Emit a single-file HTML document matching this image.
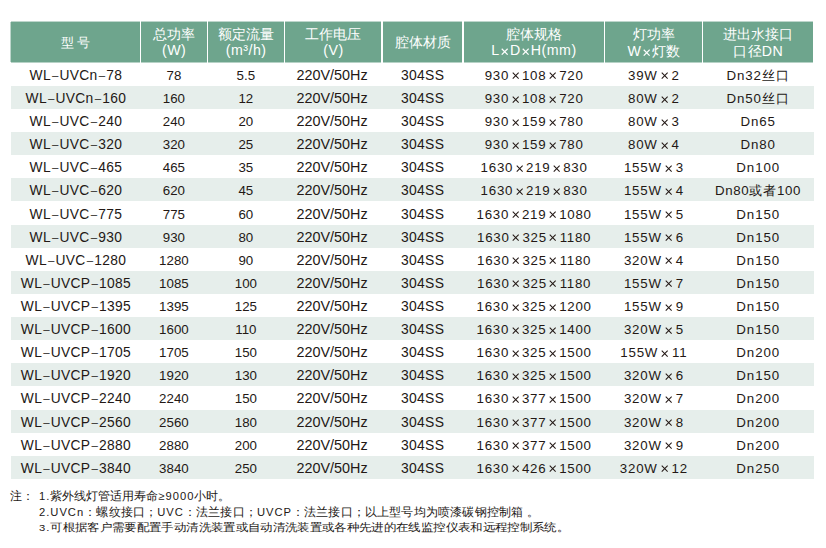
<!DOCTYPE html>
<html><head><meta charset="utf-8"><style>
html,body{margin:0;padding:0;background:#fff;}
body{width:826px;height:548px;position:relative;overflow:hidden;font-family:"Liberation Sans",sans-serif;color:#231815;}
.h{position:absolute;background:#6ea58d;color:#fff;font-size:14px;box-shadow:0 -1px 0 rgba(110,165,141,.45),0 1px 0 rgba(110,165,141,.5);}
.h0{box-shadow:0 -1px 0 rgba(110,165,141,.45),0 1px 0 rgba(110,165,141,.5),-1px 0 0 rgba(110,165,141,.45);}
.hl{position:absolute;left:0;right:0;text-align:center;white-space:nowrap;line-height:16px;height:16px;}
.r{position:absolute;left:11px;width:803px;height:23.12px;}
.g{background:#e6eeeb;}
.c{position:absolute;top:1.0px;height:23.12px;line-height:23.12px;text-align:center;font-size:13.3px;white-space:nowrap;}
.x{display:inline-block;margin:0 2.8px 0 2.6px;vertical-align:0px;}
.x7{margin-left:3.0px;margin-right:3.6px;}
.d{font-size:11.5px;margin:0 0.9px 0 1.1px;vertical-align:1px;}
.cj{font-size:12.6px;letter-spacing:1px;}
.xh{display:inline-block;margin:0 1.4px 0 1.4px;vertical-align:0px;}
.hc{font-size:14px;letter-spacing:0.2px;}
.note{position:absolute;font-size:12px;line-height:16px;white-space:nowrap;}
.n1{font-size:11.5px;}
.n2{letter-spacing:0.17px;}
.n3{letter-spacing:0.35px;transform:scaleY(0.88);transform-origin:0 2px;}
.lt{font-size:11.2px;letter-spacing:1px;}
</style></head><body>

<div class="h h0" style="left:11px;width:128.75px;top:22px;height:40px"><div class="hl" style="top:12px"><span style="font-size:13.4px;letter-spacing:-0.3px">型 号</span></div></div>
<div class="h" style="left:141.25px;width:65.30px;top:22px;height:40px"><div class="hl" style="top:4.0px">总功率</div><div class="hl" style="top:20.0px"><span style="font-size:14.2px;letter-spacing:0.5px;margin-right:-0.5px">(W)</span></div></div>
<div class="h" style="left:208.05px;width:75.60px;top:22px;height:40px"><div class="hl" style="top:4.0px">额定流量</div><div class="hl" style="top:20.0px"><span style="font-size:14.2px;letter-spacing:0.5px;margin-right:-0.5px">(m³/h)</span></div></div>
<div class="h" style="left:285.15px;width:96.10px;top:22px;height:40px"><div class="hl" style="top:4.0px">工作电压</div><div class="hl" style="top:20.0px"><span style="font-size:14.2px;letter-spacing:0.5px;margin-right:-0.5px">(V)</span></div></div>
<div class="h" style="left:382.75px;width:79.50px;top:22px;height:40px"><div class="hl" style="top:12px">腔体材质</div></div>
<div class="h" style="left:463.75px;width:140.00px;top:22px;height:40px"><div class="hl" style="top:4.0px">腔体规格</div><div class="hl" style="top:20.0px"><span style="font-size:14.2px;letter-spacing:0.5px;margin-right:-0.5px">L<svg class="xh" width="7.4" height="7.4" viewBox="0 0 10 10"><path d="M1 1L9 9M9 1L1 9" stroke="#fff" stroke-width="1.6" fill="none"/></svg>D<svg class="xh" width="7.4" height="7.4" viewBox="0 0 10 10"><path d="M1 1L9 9M9 1L1 9" stroke="#fff" stroke-width="1.6" fill="none"/></svg>H(mm)</span></div></div>
<div class="h" style="left:605.25px;width:96.50px;top:22px;height:40px"><div class="hl" style="top:4.0px">灯功率</div><div class="hl" style="top:20.9px"><span style="font-size:14.2px;letter-spacing:0.5px;margin-right:-0.5px">W<svg class="xh" width="7.4" height="7.4" viewBox="0 0 10 10"><path d="M1 1L9 9M9 1L1 9" stroke="#fff" stroke-width="1.6" fill="none"/></svg><span class=hc>灯数</span></span></div></div>
<div class="h" style="left:703.25px;width:109.75px;top:22px;height:40px"><div class="hl" style="top:4.0px">进出水接口</div><div class="hl" style="top:20.9px"><span style="font-size:14.2px;letter-spacing:0.5px;margin-right:-0.5px"><span class=hc>口径</span>DN</span></div></div>
<div class="r" style="top:62.78px"><div class="c" style="left:0.00px;width:129.50px;letter-spacing:0.3px;font-size:13.8px"><span style="margin-right:-0.3px">WL<span class="d">–</span>UVCn<span class="d">–</span>78</span></div><div class="c" style="left:129.50px;width:66.80px;letter-spacing:0px;font-size:13.3px"><span style="margin-right:-0px">78</span></div><div class="c" style="left:196.30px;width:77.10px;letter-spacing:0px;font-size:13.3px"><span style="margin-right:-0px">5.5</span></div><div class="c" style="left:272.20px;width:97.60px;letter-spacing:0px;font-size:14.4px"><span style="margin-right:-0px">220V/50Hz</span></div><div class="c" style="left:371.00px;width:81.00px;letter-spacing:0.3px;font-size:13.9px"><span style="margin-right:-0.3px">304SS</span></div><div class="c" style="left:452.00px;width:141.50px;letter-spacing:0.75px;font-size:13.3px"><span style="margin-right:-0.75px">930<svg class="x" width="7.4" height="7.4" viewBox="0 0 10 10"><path d="M1 1L9 9M9 1L1 9" stroke="#231815" stroke-width="1.4" fill="none"/></svg>108<svg class="x" width="7.4" height="7.4" viewBox="0 0 10 10"><path d="M1 1L9 9M9 1L1 9" stroke="#231815" stroke-width="1.4" fill="none"/></svg>720</span></div><div class="c" style="left:593.50px;width:98.00px;letter-spacing:0.77px;font-size:13.3px"><span style="margin-right:-0.77px">39W<svg class="x x7" width="7.4" height="7.4" viewBox="0 0 10 10"><path d="M1 1L9 9M9 1L1 9" stroke="#231815" stroke-width="1.4" fill="none"/></svg>2</span></div><div class="c" style="left:691.50px;width:110.50px;letter-spacing:0.9px;font-size:13.3px"><span style="margin-right:-0.9px">Dn32<span class="cj">丝口</span></span></div></div>
<div class="r g" style="top:85.90px"><div class="c" style="left:0.00px;width:129.50px;letter-spacing:0.3px;font-size:13.8px"><span style="margin-right:-0.3px">WL<span class="d">–</span>UVCn<span class="d">–</span>160</span></div><div class="c" style="left:129.50px;width:66.80px;letter-spacing:0px;font-size:13.3px"><span style="margin-right:-0px">160</span></div><div class="c" style="left:196.30px;width:77.10px;letter-spacing:0px;font-size:13.3px"><span style="margin-right:-0px">12</span></div><div class="c" style="left:272.20px;width:97.60px;letter-spacing:0px;font-size:14.4px"><span style="margin-right:-0px">220V/50Hz</span></div><div class="c" style="left:371.00px;width:81.00px;letter-spacing:0.3px;font-size:13.9px"><span style="margin-right:-0.3px">304SS</span></div><div class="c" style="left:452.00px;width:141.50px;letter-spacing:0.75px;font-size:13.3px"><span style="margin-right:-0.75px">930<svg class="x" width="7.4" height="7.4" viewBox="0 0 10 10"><path d="M1 1L9 9M9 1L1 9" stroke="#231815" stroke-width="1.4" fill="none"/></svg>108<svg class="x" width="7.4" height="7.4" viewBox="0 0 10 10"><path d="M1 1L9 9M9 1L1 9" stroke="#231815" stroke-width="1.4" fill="none"/></svg>720</span></div><div class="c" style="left:593.50px;width:98.00px;letter-spacing:0.77px;font-size:13.3px"><span style="margin-right:-0.77px">80W<svg class="x x7" width="7.4" height="7.4" viewBox="0 0 10 10"><path d="M1 1L9 9M9 1L1 9" stroke="#231815" stroke-width="1.4" fill="none"/></svg>2</span></div><div class="c" style="left:691.50px;width:110.50px;letter-spacing:0.9px;font-size:13.3px"><span style="margin-right:-0.9px">Dn50<span class="cj">丝口</span></span></div></div>
<div class="r" style="top:109.02px"><div class="c" style="left:0.00px;width:129.50px;letter-spacing:0.3px;font-size:13.8px"><span style="margin-right:-0.3px">WL<span class="d">–</span>UVC<span class="d">–</span>240</span></div><div class="c" style="left:129.50px;width:66.80px;letter-spacing:0px;font-size:13.3px"><span style="margin-right:-0px">240</span></div><div class="c" style="left:196.30px;width:77.10px;letter-spacing:0px;font-size:13.3px"><span style="margin-right:-0px">20</span></div><div class="c" style="left:272.20px;width:97.60px;letter-spacing:0px;font-size:14.4px"><span style="margin-right:-0px">220V/50Hz</span></div><div class="c" style="left:371.00px;width:81.00px;letter-spacing:0.3px;font-size:13.9px"><span style="margin-right:-0.3px">304SS</span></div><div class="c" style="left:452.00px;width:141.50px;letter-spacing:0.75px;font-size:13.3px"><span style="margin-right:-0.75px">930<svg class="x" width="7.4" height="7.4" viewBox="0 0 10 10"><path d="M1 1L9 9M9 1L1 9" stroke="#231815" stroke-width="1.4" fill="none"/></svg>159<svg class="x" width="7.4" height="7.4" viewBox="0 0 10 10"><path d="M1 1L9 9M9 1L1 9" stroke="#231815" stroke-width="1.4" fill="none"/></svg>780</span></div><div class="c" style="left:593.50px;width:98.00px;letter-spacing:0.77px;font-size:13.3px"><span style="margin-right:-0.77px">80W<svg class="x x7" width="7.4" height="7.4" viewBox="0 0 10 10"><path d="M1 1L9 9M9 1L1 9" stroke="#231815" stroke-width="1.4" fill="none"/></svg>3</span></div><div class="c" style="left:691.50px;width:110.50px;letter-spacing:0.9px;font-size:13.3px"><span style="margin-right:-0.9px">Dn65</span></div></div>
<div class="r g" style="top:132.14px"><div class="c" style="left:0.00px;width:129.50px;letter-spacing:0.3px;font-size:13.8px"><span style="margin-right:-0.3px">WL<span class="d">–</span>UVC<span class="d">–</span>320</span></div><div class="c" style="left:129.50px;width:66.80px;letter-spacing:0px;font-size:13.3px"><span style="margin-right:-0px">320</span></div><div class="c" style="left:196.30px;width:77.10px;letter-spacing:0px;font-size:13.3px"><span style="margin-right:-0px">25</span></div><div class="c" style="left:272.20px;width:97.60px;letter-spacing:0px;font-size:14.4px"><span style="margin-right:-0px">220V/50Hz</span></div><div class="c" style="left:371.00px;width:81.00px;letter-spacing:0.3px;font-size:13.9px"><span style="margin-right:-0.3px">304SS</span></div><div class="c" style="left:452.00px;width:141.50px;letter-spacing:0.75px;font-size:13.3px"><span style="margin-right:-0.75px">930<svg class="x" width="7.4" height="7.4" viewBox="0 0 10 10"><path d="M1 1L9 9M9 1L1 9" stroke="#231815" stroke-width="1.4" fill="none"/></svg>159<svg class="x" width="7.4" height="7.4" viewBox="0 0 10 10"><path d="M1 1L9 9M9 1L1 9" stroke="#231815" stroke-width="1.4" fill="none"/></svg>780</span></div><div class="c" style="left:593.50px;width:98.00px;letter-spacing:0.77px;font-size:13.3px"><span style="margin-right:-0.77px">80W<svg class="x x7" width="7.4" height="7.4" viewBox="0 0 10 10"><path d="M1 1L9 9M9 1L1 9" stroke="#231815" stroke-width="1.4" fill="none"/></svg>4</span></div><div class="c" style="left:691.50px;width:110.50px;letter-spacing:0.9px;font-size:13.3px"><span style="margin-right:-0.9px">Dn80</span></div></div>
<div class="r" style="top:155.26px"><div class="c" style="left:0.00px;width:129.50px;letter-spacing:0.3px;font-size:13.8px"><span style="margin-right:-0.3px">WL<span class="d">–</span>UVC<span class="d">–</span>465</span></div><div class="c" style="left:129.50px;width:66.80px;letter-spacing:0px;font-size:13.3px"><span style="margin-right:-0px">465</span></div><div class="c" style="left:196.30px;width:77.10px;letter-spacing:0px;font-size:13.3px"><span style="margin-right:-0px">35</span></div><div class="c" style="left:272.20px;width:97.60px;letter-spacing:0px;font-size:14.4px"><span style="margin-right:-0px">220V/50Hz</span></div><div class="c" style="left:371.00px;width:81.00px;letter-spacing:0.3px;font-size:13.9px"><span style="margin-right:-0.3px">304SS</span></div><div class="c" style="left:452.00px;width:141.50px;letter-spacing:0.75px;font-size:13.3px"><span style="margin-right:-0.75px">1630<svg class="x" width="7.4" height="7.4" viewBox="0 0 10 10"><path d="M1 1L9 9M9 1L1 9" stroke="#231815" stroke-width="1.4" fill="none"/></svg>219<svg class="x" width="7.4" height="7.4" viewBox="0 0 10 10"><path d="M1 1L9 9M9 1L1 9" stroke="#231815" stroke-width="1.4" fill="none"/></svg>830</span></div><div class="c" style="left:593.50px;width:98.00px;letter-spacing:0.77px;font-size:13.3px"><span style="margin-right:-0.77px">155W<svg class="x x7" width="7.4" height="7.4" viewBox="0 0 10 10"><path d="M1 1L9 9M9 1L1 9" stroke="#231815" stroke-width="1.4" fill="none"/></svg>3</span></div><div class="c" style="left:691.50px;width:110.50px;letter-spacing:0.9px;font-size:13.3px"><span style="margin-right:-0.9px">Dn100</span></div></div>
<div class="r g" style="top:178.38px"><div class="c" style="left:0.00px;width:129.50px;letter-spacing:0.3px;font-size:13.8px"><span style="margin-right:-0.3px">WL<span class="d">–</span>UVC<span class="d">–</span>620</span></div><div class="c" style="left:129.50px;width:66.80px;letter-spacing:0px;font-size:13.3px"><span style="margin-right:-0px">620</span></div><div class="c" style="left:196.30px;width:77.10px;letter-spacing:0px;font-size:13.3px"><span style="margin-right:-0px">45</span></div><div class="c" style="left:272.20px;width:97.60px;letter-spacing:0px;font-size:14.4px"><span style="margin-right:-0px">220V/50Hz</span></div><div class="c" style="left:371.00px;width:81.00px;letter-spacing:0.3px;font-size:13.9px"><span style="margin-right:-0.3px">304SS</span></div><div class="c" style="left:452.00px;width:141.50px;letter-spacing:0.75px;font-size:13.3px"><span style="margin-right:-0.75px">1630<svg class="x" width="7.4" height="7.4" viewBox="0 0 10 10"><path d="M1 1L9 9M9 1L1 9" stroke="#231815" stroke-width="1.4" fill="none"/></svg>219<svg class="x" width="7.4" height="7.4" viewBox="0 0 10 10"><path d="M1 1L9 9M9 1L1 9" stroke="#231815" stroke-width="1.4" fill="none"/></svg>830</span></div><div class="c" style="left:593.50px;width:98.00px;letter-spacing:0.77px;font-size:13.3px"><span style="margin-right:-0.77px">155W<svg class="x x7" width="7.4" height="7.4" viewBox="0 0 10 10"><path d="M1 1L9 9M9 1L1 9" stroke="#231815" stroke-width="1.4" fill="none"/></svg>4</span></div><div class="c" style="left:691.50px;width:110.50px;letter-spacing:0.55px;font-size:13.3px"><span style="margin-right:-0.55px">Dn80<span class="cj">或者</span>100</span></div></div>
<div class="r" style="top:201.50px"><div class="c" style="left:0.00px;width:129.50px;letter-spacing:0.3px;font-size:13.8px"><span style="margin-right:-0.3px">WL<span class="d">–</span>UVC<span class="d">–</span>775</span></div><div class="c" style="left:129.50px;width:66.80px;letter-spacing:0px;font-size:13.3px"><span style="margin-right:-0px">775</span></div><div class="c" style="left:196.30px;width:77.10px;letter-spacing:0px;font-size:13.3px"><span style="margin-right:-0px">60</span></div><div class="c" style="left:272.20px;width:97.60px;letter-spacing:0px;font-size:14.4px"><span style="margin-right:-0px">220V/50Hz</span></div><div class="c" style="left:371.00px;width:81.00px;letter-spacing:0.3px;font-size:13.9px"><span style="margin-right:-0.3px">304SS</span></div><div class="c" style="left:452.00px;width:141.50px;letter-spacing:0.75px;font-size:13.3px"><span style="margin-right:-0.75px">1630<svg class="x" width="7.4" height="7.4" viewBox="0 0 10 10"><path d="M1 1L9 9M9 1L1 9" stroke="#231815" stroke-width="1.4" fill="none"/></svg>219<svg class="x" width="7.4" height="7.4" viewBox="0 0 10 10"><path d="M1 1L9 9M9 1L1 9" stroke="#231815" stroke-width="1.4" fill="none"/></svg>1080</span></div><div class="c" style="left:593.50px;width:98.00px;letter-spacing:0.77px;font-size:13.3px"><span style="margin-right:-0.77px">155W<svg class="x x7" width="7.4" height="7.4" viewBox="0 0 10 10"><path d="M1 1L9 9M9 1L1 9" stroke="#231815" stroke-width="1.4" fill="none"/></svg>5</span></div><div class="c" style="left:691.50px;width:110.50px;letter-spacing:0.9px;font-size:13.3px"><span style="margin-right:-0.9px">Dn150</span></div></div>
<div class="r g" style="top:224.62px"><div class="c" style="left:0.00px;width:129.50px;letter-spacing:0.3px;font-size:13.8px"><span style="margin-right:-0.3px">WL<span class="d">–</span>UVC<span class="d">–</span>930</span></div><div class="c" style="left:129.50px;width:66.80px;letter-spacing:0px;font-size:13.3px"><span style="margin-right:-0px">930</span></div><div class="c" style="left:196.30px;width:77.10px;letter-spacing:0px;font-size:13.3px"><span style="margin-right:-0px">80</span></div><div class="c" style="left:272.20px;width:97.60px;letter-spacing:0px;font-size:14.4px"><span style="margin-right:-0px">220V/50Hz</span></div><div class="c" style="left:371.00px;width:81.00px;letter-spacing:0.3px;font-size:13.9px"><span style="margin-right:-0.3px">304SS</span></div><div class="c" style="left:452.00px;width:141.50px;letter-spacing:0.75px;font-size:13.3px"><span style="margin-right:-0.75px">1630<svg class="x" width="7.4" height="7.4" viewBox="0 0 10 10"><path d="M1 1L9 9M9 1L1 9" stroke="#231815" stroke-width="1.4" fill="none"/></svg>325<svg class="x" width="7.4" height="7.4" viewBox="0 0 10 10"><path d="M1 1L9 9M9 1L1 9" stroke="#231815" stroke-width="1.4" fill="none"/></svg>1180</span></div><div class="c" style="left:593.50px;width:98.00px;letter-spacing:0.77px;font-size:13.3px"><span style="margin-right:-0.77px">155W<svg class="x x7" width="7.4" height="7.4" viewBox="0 0 10 10"><path d="M1 1L9 9M9 1L1 9" stroke="#231815" stroke-width="1.4" fill="none"/></svg>6</span></div><div class="c" style="left:691.50px;width:110.50px;letter-spacing:0.9px;font-size:13.3px"><span style="margin-right:-0.9px">Dn150</span></div></div>
<div class="r" style="top:247.74px"><div class="c" style="left:0.00px;width:129.50px;letter-spacing:0.3px;font-size:13.8px"><span style="margin-right:-0.3px">WL<span class="d">–</span>UVC<span class="d">–</span>1280</span></div><div class="c" style="left:129.50px;width:66.80px;letter-spacing:0px;font-size:13.3px"><span style="margin-right:-0px">1280</span></div><div class="c" style="left:196.30px;width:77.10px;letter-spacing:0px;font-size:13.3px"><span style="margin-right:-0px">90</span></div><div class="c" style="left:272.20px;width:97.60px;letter-spacing:0px;font-size:14.4px"><span style="margin-right:-0px">220V/50Hz</span></div><div class="c" style="left:371.00px;width:81.00px;letter-spacing:0.3px;font-size:13.9px"><span style="margin-right:-0.3px">304SS</span></div><div class="c" style="left:452.00px;width:141.50px;letter-spacing:0.75px;font-size:13.3px"><span style="margin-right:-0.75px">1630<svg class="x" width="7.4" height="7.4" viewBox="0 0 10 10"><path d="M1 1L9 9M9 1L1 9" stroke="#231815" stroke-width="1.4" fill="none"/></svg>325<svg class="x" width="7.4" height="7.4" viewBox="0 0 10 10"><path d="M1 1L9 9M9 1L1 9" stroke="#231815" stroke-width="1.4" fill="none"/></svg>1180</span></div><div class="c" style="left:593.50px;width:98.00px;letter-spacing:0.77px;font-size:13.3px"><span style="margin-right:-0.77px">320W<svg class="x x7" width="7.4" height="7.4" viewBox="0 0 10 10"><path d="M1 1L9 9M9 1L1 9" stroke="#231815" stroke-width="1.4" fill="none"/></svg>4</span></div><div class="c" style="left:691.50px;width:110.50px;letter-spacing:0.9px;font-size:13.3px"><span style="margin-right:-0.9px">Dn150</span></div></div>
<div class="r g" style="top:270.86px"><div class="c" style="left:0.00px;width:129.50px;letter-spacing:0.3px;font-size:13.8px"><span style="margin-right:-0.3px">WL<span class="d">–</span>UVCP<span class="d">–</span>1085</span></div><div class="c" style="left:129.50px;width:66.80px;letter-spacing:0px;font-size:13.3px"><span style="margin-right:-0px">1085</span></div><div class="c" style="left:196.30px;width:77.10px;letter-spacing:0px;font-size:13.3px"><span style="margin-right:-0px">100</span></div><div class="c" style="left:272.20px;width:97.60px;letter-spacing:0px;font-size:14.4px"><span style="margin-right:-0px">220V/50Hz</span></div><div class="c" style="left:371.00px;width:81.00px;letter-spacing:0.3px;font-size:13.9px"><span style="margin-right:-0.3px">304SS</span></div><div class="c" style="left:452.00px;width:141.50px;letter-spacing:0.75px;font-size:13.3px"><span style="margin-right:-0.75px">1630<svg class="x" width="7.4" height="7.4" viewBox="0 0 10 10"><path d="M1 1L9 9M9 1L1 9" stroke="#231815" stroke-width="1.4" fill="none"/></svg>325<svg class="x" width="7.4" height="7.4" viewBox="0 0 10 10"><path d="M1 1L9 9M9 1L1 9" stroke="#231815" stroke-width="1.4" fill="none"/></svg>1180</span></div><div class="c" style="left:593.50px;width:98.00px;letter-spacing:0.77px;font-size:13.3px"><span style="margin-right:-0.77px">155W<svg class="x x7" width="7.4" height="7.4" viewBox="0 0 10 10"><path d="M1 1L9 9M9 1L1 9" stroke="#231815" stroke-width="1.4" fill="none"/></svg>7</span></div><div class="c" style="left:691.50px;width:110.50px;letter-spacing:0.9px;font-size:13.3px"><span style="margin-right:-0.9px">Dn150</span></div></div>
<div class="r" style="top:293.98px"><div class="c" style="left:0.00px;width:129.50px;letter-spacing:0.3px;font-size:13.8px"><span style="margin-right:-0.3px">WL<span class="d">–</span>UVCP<span class="d">–</span>1395</span></div><div class="c" style="left:129.50px;width:66.80px;letter-spacing:0px;font-size:13.3px"><span style="margin-right:-0px">1395</span></div><div class="c" style="left:196.30px;width:77.10px;letter-spacing:0px;font-size:13.3px"><span style="margin-right:-0px">125</span></div><div class="c" style="left:272.20px;width:97.60px;letter-spacing:0px;font-size:14.4px"><span style="margin-right:-0px">220V/50Hz</span></div><div class="c" style="left:371.00px;width:81.00px;letter-spacing:0.3px;font-size:13.9px"><span style="margin-right:-0.3px">304SS</span></div><div class="c" style="left:452.00px;width:141.50px;letter-spacing:0.75px;font-size:13.3px"><span style="margin-right:-0.75px">1630<svg class="x" width="7.4" height="7.4" viewBox="0 0 10 10"><path d="M1 1L9 9M9 1L1 9" stroke="#231815" stroke-width="1.4" fill="none"/></svg>325<svg class="x" width="7.4" height="7.4" viewBox="0 0 10 10"><path d="M1 1L9 9M9 1L1 9" stroke="#231815" stroke-width="1.4" fill="none"/></svg>1200</span></div><div class="c" style="left:593.50px;width:98.00px;letter-spacing:0.77px;font-size:13.3px"><span style="margin-right:-0.77px">155W<svg class="x x7" width="7.4" height="7.4" viewBox="0 0 10 10"><path d="M1 1L9 9M9 1L1 9" stroke="#231815" stroke-width="1.4" fill="none"/></svg>9</span></div><div class="c" style="left:691.50px;width:110.50px;letter-spacing:0.9px;font-size:13.3px"><span style="margin-right:-0.9px">Dn150</span></div></div>
<div class="r g" style="top:317.10px"><div class="c" style="left:0.00px;width:129.50px;letter-spacing:0.3px;font-size:13.8px"><span style="margin-right:-0.3px">WL<span class="d">–</span>UVCP<span class="d">–</span>1600</span></div><div class="c" style="left:129.50px;width:66.80px;letter-spacing:0px;font-size:13.3px"><span style="margin-right:-0px">1600</span></div><div class="c" style="left:196.30px;width:77.10px;letter-spacing:0px;font-size:13.3px"><span style="margin-right:-0px">110</span></div><div class="c" style="left:272.20px;width:97.60px;letter-spacing:0px;font-size:14.4px"><span style="margin-right:-0px">220V/50Hz</span></div><div class="c" style="left:371.00px;width:81.00px;letter-spacing:0.3px;font-size:13.9px"><span style="margin-right:-0.3px">304SS</span></div><div class="c" style="left:452.00px;width:141.50px;letter-spacing:0.75px;font-size:13.3px"><span style="margin-right:-0.75px">1630<svg class="x" width="7.4" height="7.4" viewBox="0 0 10 10"><path d="M1 1L9 9M9 1L1 9" stroke="#231815" stroke-width="1.4" fill="none"/></svg>325<svg class="x" width="7.4" height="7.4" viewBox="0 0 10 10"><path d="M1 1L9 9M9 1L1 9" stroke="#231815" stroke-width="1.4" fill="none"/></svg>1400</span></div><div class="c" style="left:593.50px;width:98.00px;letter-spacing:0.77px;font-size:13.3px"><span style="margin-right:-0.77px">320W<svg class="x x7" width="7.4" height="7.4" viewBox="0 0 10 10"><path d="M1 1L9 9M9 1L1 9" stroke="#231815" stroke-width="1.4" fill="none"/></svg>5</span></div><div class="c" style="left:691.50px;width:110.50px;letter-spacing:0.9px;font-size:13.3px"><span style="margin-right:-0.9px">Dn150</span></div></div>
<div class="r" style="top:340.22px"><div class="c" style="left:0.00px;width:129.50px;letter-spacing:0.3px;font-size:13.8px"><span style="margin-right:-0.3px">WL<span class="d">–</span>UVCP<span class="d">–</span>1705</span></div><div class="c" style="left:129.50px;width:66.80px;letter-spacing:0px;font-size:13.3px"><span style="margin-right:-0px">1705</span></div><div class="c" style="left:196.30px;width:77.10px;letter-spacing:0px;font-size:13.3px"><span style="margin-right:-0px">150</span></div><div class="c" style="left:272.20px;width:97.60px;letter-spacing:0px;font-size:14.4px"><span style="margin-right:-0px">220V/50Hz</span></div><div class="c" style="left:371.00px;width:81.00px;letter-spacing:0.3px;font-size:13.9px"><span style="margin-right:-0.3px">304SS</span></div><div class="c" style="left:452.00px;width:141.50px;letter-spacing:0.75px;font-size:13.3px"><span style="margin-right:-0.75px">1630<svg class="x" width="7.4" height="7.4" viewBox="0 0 10 10"><path d="M1 1L9 9M9 1L1 9" stroke="#231815" stroke-width="1.4" fill="none"/></svg>325<svg class="x" width="7.4" height="7.4" viewBox="0 0 10 10"><path d="M1 1L9 9M9 1L1 9" stroke="#231815" stroke-width="1.4" fill="none"/></svg>1500</span></div><div class="c" style="left:593.50px;width:98.00px;letter-spacing:0.77px;font-size:13.3px"><span style="margin-right:-0.77px">155W<svg class="x x7" width="7.4" height="7.4" viewBox="0 0 10 10"><path d="M1 1L9 9M9 1L1 9" stroke="#231815" stroke-width="1.4" fill="none"/></svg>11</span></div><div class="c" style="left:691.50px;width:110.50px;letter-spacing:0.9px;font-size:13.3px"><span style="margin-right:-0.9px">Dn200</span></div></div>
<div class="r g" style="top:363.34px"><div class="c" style="left:0.00px;width:129.50px;letter-spacing:0.3px;font-size:13.8px"><span style="margin-right:-0.3px">WL<span class="d">–</span>UVCP<span class="d">–</span>1920</span></div><div class="c" style="left:129.50px;width:66.80px;letter-spacing:0px;font-size:13.3px"><span style="margin-right:-0px">1920</span></div><div class="c" style="left:196.30px;width:77.10px;letter-spacing:0px;font-size:13.3px"><span style="margin-right:-0px">130</span></div><div class="c" style="left:272.20px;width:97.60px;letter-spacing:0px;font-size:14.4px"><span style="margin-right:-0px">220V/50Hz</span></div><div class="c" style="left:371.00px;width:81.00px;letter-spacing:0.3px;font-size:13.9px"><span style="margin-right:-0.3px">304SS</span></div><div class="c" style="left:452.00px;width:141.50px;letter-spacing:0.75px;font-size:13.3px"><span style="margin-right:-0.75px">1630<svg class="x" width="7.4" height="7.4" viewBox="0 0 10 10"><path d="M1 1L9 9M9 1L1 9" stroke="#231815" stroke-width="1.4" fill="none"/></svg>325<svg class="x" width="7.4" height="7.4" viewBox="0 0 10 10"><path d="M1 1L9 9M9 1L1 9" stroke="#231815" stroke-width="1.4" fill="none"/></svg>1500</span></div><div class="c" style="left:593.50px;width:98.00px;letter-spacing:0.77px;font-size:13.3px"><span style="margin-right:-0.77px">320W<svg class="x x7" width="7.4" height="7.4" viewBox="0 0 10 10"><path d="M1 1L9 9M9 1L1 9" stroke="#231815" stroke-width="1.4" fill="none"/></svg>6</span></div><div class="c" style="left:691.50px;width:110.50px;letter-spacing:0.9px;font-size:13.3px"><span style="margin-right:-0.9px">Dn150</span></div></div>
<div class="r" style="top:386.46px"><div class="c" style="left:0.00px;width:129.50px;letter-spacing:0.3px;font-size:13.8px"><span style="margin-right:-0.3px">WL<span class="d">–</span>UVCP<span class="d">–</span>2240</span></div><div class="c" style="left:129.50px;width:66.80px;letter-spacing:0px;font-size:13.3px"><span style="margin-right:-0px">2240</span></div><div class="c" style="left:196.30px;width:77.10px;letter-spacing:0px;font-size:13.3px"><span style="margin-right:-0px">150</span></div><div class="c" style="left:272.20px;width:97.60px;letter-spacing:0px;font-size:14.4px"><span style="margin-right:-0px">220V/50Hz</span></div><div class="c" style="left:371.00px;width:81.00px;letter-spacing:0.3px;font-size:13.9px"><span style="margin-right:-0.3px">304SS</span></div><div class="c" style="left:452.00px;width:141.50px;letter-spacing:0.75px;font-size:13.3px"><span style="margin-right:-0.75px">1630<svg class="x" width="7.4" height="7.4" viewBox="0 0 10 10"><path d="M1 1L9 9M9 1L1 9" stroke="#231815" stroke-width="1.4" fill="none"/></svg>377<svg class="x" width="7.4" height="7.4" viewBox="0 0 10 10"><path d="M1 1L9 9M9 1L1 9" stroke="#231815" stroke-width="1.4" fill="none"/></svg>1500</span></div><div class="c" style="left:593.50px;width:98.00px;letter-spacing:0.77px;font-size:13.3px"><span style="margin-right:-0.77px">320W<svg class="x x7" width="7.4" height="7.4" viewBox="0 0 10 10"><path d="M1 1L9 9M9 1L1 9" stroke="#231815" stroke-width="1.4" fill="none"/></svg>7</span></div><div class="c" style="left:691.50px;width:110.50px;letter-spacing:0.9px;font-size:13.3px"><span style="margin-right:-0.9px">Dn200</span></div></div>
<div class="r g" style="top:409.58px"><div class="c" style="left:0.00px;width:129.50px;letter-spacing:0.3px;font-size:13.8px"><span style="margin-right:-0.3px">WL<span class="d">–</span>UVCP<span class="d">–</span>2560</span></div><div class="c" style="left:129.50px;width:66.80px;letter-spacing:0px;font-size:13.3px"><span style="margin-right:-0px">2560</span></div><div class="c" style="left:196.30px;width:77.10px;letter-spacing:0px;font-size:13.3px"><span style="margin-right:-0px">180</span></div><div class="c" style="left:272.20px;width:97.60px;letter-spacing:0px;font-size:14.4px"><span style="margin-right:-0px">220V/50Hz</span></div><div class="c" style="left:371.00px;width:81.00px;letter-spacing:0.3px;font-size:13.9px"><span style="margin-right:-0.3px">304SS</span></div><div class="c" style="left:452.00px;width:141.50px;letter-spacing:0.75px;font-size:13.3px"><span style="margin-right:-0.75px">1630<svg class="x" width="7.4" height="7.4" viewBox="0 0 10 10"><path d="M1 1L9 9M9 1L1 9" stroke="#231815" stroke-width="1.4" fill="none"/></svg>377<svg class="x" width="7.4" height="7.4" viewBox="0 0 10 10"><path d="M1 1L9 9M9 1L1 9" stroke="#231815" stroke-width="1.4" fill="none"/></svg>1500</span></div><div class="c" style="left:593.50px;width:98.00px;letter-spacing:0.77px;font-size:13.3px"><span style="margin-right:-0.77px">320W<svg class="x x7" width="7.4" height="7.4" viewBox="0 0 10 10"><path d="M1 1L9 9M9 1L1 9" stroke="#231815" stroke-width="1.4" fill="none"/></svg>8</span></div><div class="c" style="left:691.50px;width:110.50px;letter-spacing:0.9px;font-size:13.3px"><span style="margin-right:-0.9px">Dn200</span></div></div>
<div class="r" style="top:432.70px"><div class="c" style="left:0.00px;width:129.50px;letter-spacing:0.3px;font-size:13.8px"><span style="margin-right:-0.3px">WL<span class="d">–</span>UVCP<span class="d">–</span>2880</span></div><div class="c" style="left:129.50px;width:66.80px;letter-spacing:0px;font-size:13.3px"><span style="margin-right:-0px">2880</span></div><div class="c" style="left:196.30px;width:77.10px;letter-spacing:0px;font-size:13.3px"><span style="margin-right:-0px">200</span></div><div class="c" style="left:272.20px;width:97.60px;letter-spacing:0px;font-size:14.4px"><span style="margin-right:-0px">220V/50Hz</span></div><div class="c" style="left:371.00px;width:81.00px;letter-spacing:0.3px;font-size:13.9px"><span style="margin-right:-0.3px">304SS</span></div><div class="c" style="left:452.00px;width:141.50px;letter-spacing:0.75px;font-size:13.3px"><span style="margin-right:-0.75px">1630<svg class="x" width="7.4" height="7.4" viewBox="0 0 10 10"><path d="M1 1L9 9M9 1L1 9" stroke="#231815" stroke-width="1.4" fill="none"/></svg>377<svg class="x" width="7.4" height="7.4" viewBox="0 0 10 10"><path d="M1 1L9 9M9 1L1 9" stroke="#231815" stroke-width="1.4" fill="none"/></svg>1500</span></div><div class="c" style="left:593.50px;width:98.00px;letter-spacing:0.77px;font-size:13.3px"><span style="margin-right:-0.77px">320W<svg class="x x7" width="7.4" height="7.4" viewBox="0 0 10 10"><path d="M1 1L9 9M9 1L1 9" stroke="#231815" stroke-width="1.4" fill="none"/></svg>9</span></div><div class="c" style="left:691.50px;width:110.50px;letter-spacing:0.9px;font-size:13.3px"><span style="margin-right:-0.9px">Dn200</span></div></div>
<div class="r g" style="top:455.82px"><div class="c" style="left:0.00px;width:129.50px;letter-spacing:0.3px;font-size:13.8px"><span style="margin-right:-0.3px">WL<span class="d">–</span>UVCP<span class="d">–</span>3840</span></div><div class="c" style="left:129.50px;width:66.80px;letter-spacing:0px;font-size:13.3px"><span style="margin-right:-0px">3840</span></div><div class="c" style="left:196.30px;width:77.10px;letter-spacing:0px;font-size:13.3px"><span style="margin-right:-0px">250</span></div><div class="c" style="left:272.20px;width:97.60px;letter-spacing:0px;font-size:14.4px"><span style="margin-right:-0px">220V/50Hz</span></div><div class="c" style="left:371.00px;width:81.00px;letter-spacing:0.3px;font-size:13.9px"><span style="margin-right:-0.3px">304SS</span></div><div class="c" style="left:452.00px;width:141.50px;letter-spacing:0.75px;font-size:13.3px"><span style="margin-right:-0.75px">1630<svg class="x" width="7.4" height="7.4" viewBox="0 0 10 10"><path d="M1 1L9 9M9 1L1 9" stroke="#231815" stroke-width="1.4" fill="none"/></svg>426<svg class="x" width="7.4" height="7.4" viewBox="0 0 10 10"><path d="M1 1L9 9M9 1L1 9" stroke="#231815" stroke-width="1.4" fill="none"/></svg>1500</span></div><div class="c" style="left:593.50px;width:98.00px;letter-spacing:0.77px;font-size:13.3px"><span style="margin-right:-0.77px">320W<svg class="x x7" width="7.4" height="7.4" viewBox="0 0 10 10"><path d="M1 1L9 9M9 1L1 9" stroke="#231815" stroke-width="1.4" fill="none"/></svg>12</span></div><div class="c" style="left:691.50px;width:110.50px;letter-spacing:0.9px;font-size:13.3px"><span style="margin-right:-0.9px">Dn250</span></div></div>
<div class="note" style="left:10px;top:488px">注：</div>
<div class="note n1" style="left:39px;top:488px"><span class="lt">1.</span>紫外线灯管适用寿命<span class="lt">≥9000</span>小时。</div>
<div class="note n2" style="left:39px;top:504px"><span class="lt">2.UVCn</span>：螺纹接口；<span class="lt">UVC</span>：法兰接口；<span class="lt">UVCP</span>：法兰接口；以上型号均为喷漆碳钢控制箱 。</div>
<div class="note n3" style="left:39px;top:520px"><span class="lt">3.</span>可根据客户需要配置手动清洗装置或自动清洗装置或各种先进的在线监控仪表和远程控制系统。</div>

</body></html>
